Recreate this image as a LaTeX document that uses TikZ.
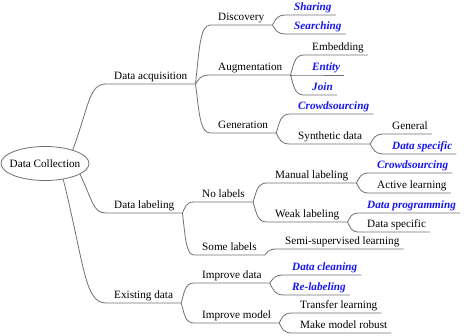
\documentclass[tikz,border=0pt]{standalone}
\usepackage{fontspec}
\setmainfont{Liberation Serif}
\newfontfamily\tnr{Liberation Serif}
\usetikzlibrary{calc,shapes.geometric}
\definecolor{linegray}{RGB}{112,112,112}
\definecolor{hiblue}{RGB}{20,20,245}
\begin{document}
\begin{tikzpicture}[x=1pt,y=-1pt,
  every node/.style={font=\tnr\fontsize{11.2}{13}\selectfont},
  item/.style={anchor=south west, inner xsep=8pt, inner ysep=0pt, text depth=4pt, text height=8pt},
  hi/.style={item, text=hiblue, font=\tnr\fontsize{11.2}{13}\selectfont\bfseries\itshape},
  link/.style={draw=linegray, line width=0.8pt},
  curv/.style n args={3}{to path={let \p1=(\tikztostart), \p2=(\tikztotarget) in
     .. controls ({\x1+#1*(\x2-\x1)},{\y1+#2*(\y2-\y1)}) and ({\x1+#3*(\x2-\x1)},{\y2}) .. (\tikztotarget)}},
  branch/.style={curv={0.25}{0.55}{0.3}},
  trunk/.style={curv={0.5}{0.7}{0.5}},
]
\useasboundingbox (0,0) rectangle (474,335);
\node[ellipse, draw=linegray, line width=0.8pt, minimum width=88pt, minimum height=34pt, inner sep=0pt,
      label={center:Data Collection}] (root) at (45,163.5) {};
% level 1
\node[item] (acq) at (106,84) {Data acquisition};
\node[item] (lab) at (106,213) {Data labeling};
\node[item] (exi) at (106,303) {Existing data};
% level 2
\node[item] (disc) at (210,25) {Discovery};
\node[item] (aug) at (210,75) {Augmentation};
\node[item] (gen) at (210,133) {Generation};
\node[item] (nol) at (194,202) {No labels};
\node[item] (some) at (194,255) {Some labels};
\node[item] (impd) at (194,283) {Improve data};
\node[item] (impm) at (194,323) {Improve model};
% level 3
\node[hi] (shar) at (286,15) {Sharing};
\node[hi] (sear) at (286,34) {Searching};
\node[item] (emb) at (304,55) {Embedding};
\node[hi] (ent) at (304,75) {Entity};
\node[hi] (join) at (304,95) {Join};
\node[hi] (crowda) at (290,114) {Crowdsourcing};
\node[item] (syn) at (290,144) {Synthetic data};
\node[item] (man) at (267,183) {Manual labeling};
\node[item] (weak) at (267,222) {Weak labeling};
\node[item] (semi) at (277,249) {Semi-supervised learning};
\node[hi] (clean) at (284,275) {Data cleaning};
\node[hi] (relab) at (284,295) {Re-labeling};
\node[item] (trans) at (292,313) {Transfer learning};
\node[item] (robust) at (292,333) {Make model robust};
% level 4
\node[item] (gener) at (384,134) {General};
\node[hi] (dspeca) at (384,154) {Data specific};
\node[hi] (crowdb) at (369,173) {Crowdsourcing};
\node[item] (active) at (369,193) {Active learning};
\node[hi] (dprog) at (359,213) {Data programming};
\node[item] (dspecb) at (359,232) {Data specific};
% connectors
\draw[link] (root.26) to[trunk] (acq.south west) -- (acq.south east);
\draw[link] (root.-17) to[trunk] (lab.south west) -- (lab.south east);
\draw[link] (root.-41) to[trunk] (exi.south west) -- (exi.south east);
\draw[link] (acq.south east) to[branch] (disc.south west) -- (disc.south east);
\draw[link] (acq.south east) to[branch] (aug.south west) -- (aug.south east);
\draw[link] (acq.south east) to[branch] (gen.south west) -- (gen.south east);
\draw[link] (lab.south east) to[branch] (nol.south west) -- (nol.south east);
\draw[link] (lab.south east) to[branch] (some.south west) -- (some.south east);
\draw[link] (exi.south east) to[branch] (impd.south west) -- (impd.south east);
\draw[link] (exi.south east) to[branch] (impm.south west) -- (impm.south east);
\draw[link] (disc.south east) to[branch] (shar.south west) -- ([xshift=-4pt]shar.south east);
\draw[link] (disc.south east) to[branch] (sear.south west) -- ([xshift=-4pt]sear.south east);
\draw[link] (aug.south east) to[branch] (emb.south west) -- ([xshift=-4pt]emb.south east);
\draw[link] (aug.south east) to[branch] (ent.south west) -- ([xshift=-4pt]ent.south east);
\draw[link] (aug.south east) to[branch] (join.south west) -- ([xshift=-4pt]join.south east);
\draw[link] (gen.south east) to[branch] (crowda.south west) -- ([xshift=-4pt]crowda.south east);
\draw[link] (gen.south east) to[branch] (syn.south west) -- (syn.south east);
\draw[link] (syn.south east) to[branch] (gener.south west) -- ([xshift=-4pt]gener.south east);
\draw[link] (syn.south east) to[branch] (dspeca.south west) -- ([xshift=-4pt]dspeca.south east);
\draw[link] (nol.south east) to[branch] (man.south west) -- (man.south east);
\draw[link] (nol.south east) to[branch] (weak.south west) -- (weak.south east);
\draw[link] (man.south east) to[branch] (crowdb.south west) -- ([xshift=-4pt]crowdb.south east);
\draw[link] (man.south east) to[branch] (active.south west) -- ([xshift=-4pt]active.south east);
\draw[link] (weak.south east) to[branch] (dprog.south west) -- ([xshift=-4pt]dprog.south east);
\draw[link] (weak.south east) to[branch] (dspecb.south west) -- ([xshift=-4pt]dspecb.south east);
\draw[link] (some.south east) to[branch] (semi.south west) -- ([xshift=-4pt]semi.south east);
\draw[link] (impd.south east) to[branch] (clean.south west) -- ([xshift=-4pt]clean.south east);
\draw[link] (impd.south east) to[branch] (relab.south west) -- ([xshift=-4pt]relab.south east);
\draw[link] (impm.south east) to[branch] (trans.south west) -- ([xshift=-4pt]trans.south east);
\draw[link] (impm.south east) to[branch] (robust.south west) -- ([xshift=-4pt]robust.south east);
\end{tikzpicture}
\end{document}
